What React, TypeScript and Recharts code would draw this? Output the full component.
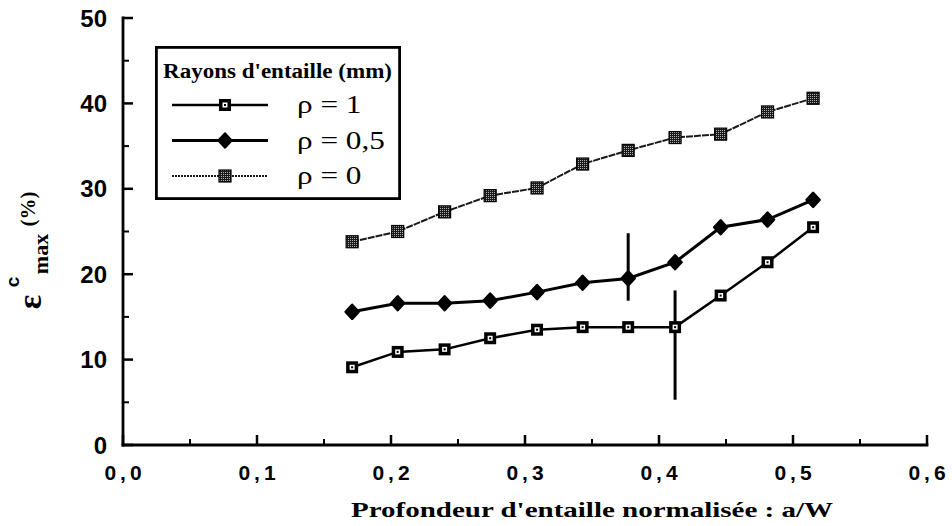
import React from 'react';
import {ErrorBar, Legend, Line, LineChart, XAxis, YAxis} from 'recharts';

// normalised notch depth a/W
const depth = [0.171, 0.205, 0.240, 0.274, 0.309, 0.343, 0.377, 0.412, 0.446, 0.481, 0.515];
// eps c max (%) for each notch radius
const rho1 = [9.1, 10.9, 11.2, 12.5, 13.5, 13.8, 13.8, 13.8, 17.5, 21.4, 25.5];
const rho05 = [15.6, 16.6, 16.6, 16.9, 17.9, 19.0, 19.5, 21.4, 25.5, 26.4, 28.7];
const rho0 = [23.8, 25.0, 27.3, 29.2, 30.1, 32.9, 34.5, 36.0, 36.4, 39.0, 40.6];
// scatter [below, above], only where the figure shows a bar
const rho1Err = [null, null, null, null, null, null, null, [8.5, 4.3], null, null, null];
const rho05Err = [null, null, null, null, null, null, [2.6, 5.3], null, null, null, null];

const xTicks = [0, 0.05, 0.1, 0.15, 0.2, 0.25, 0.3, 0.35, 0.4, 0.45, 0.5, 0.55, 0.6];
const yTicks = [0, 5, 10, 15, 20, 25, 30, 35, 40, 45, 50];
const seriesLabels = ['ρ = 1', 'ρ = 0,5', 'ρ = 0'];
const legendTitle = "Rayons d'entaille (mm)";
const xTitle = "Profondeur d'entaille normalisée : a/W";

const SERIF = '"Liberation Serif", "Times New Roman", serif';
const SANS = '"Liberation Sans", Arial, sans-serif';

const data = depth.map((x, i) => ({
    x,
    r1: rho1[i],
    r05: rho05[i],
    r0: rho0[i],
    e1: rho1Err[i],
    e05: rho05Err[i],
}));

/* markers */
const SquareMark = ({cx, cy}: any) => (
    <g>
        <rect x={cx - 6} y={cy - 6} width={12} height={12} fill="#000"/>
        <rect x={cx - 2.5} y={cy - 2.5} width={5} height={5} fill="#fff"/>
        <rect x={cx - 1} y={cy - 1} width={2} height={2} fill="#000"/>
    </g>
);
const DiamondMark = ({cx, cy}: any) => (
    <polygon points={`${cx},${cy - 7} ${cx + 6.5},${cy} ${cx},${cy + 7} ${cx - 6.5},${cy}`}
             fill="#000" stroke="#000" strokeWidth={2.5} strokeLinejoin="round"/>
);
const CheckerMark = ({cx, cy}: any) => (
    <rect x={cx - 6} y={cy - 6} width={12} height={12} fill="url(#checker)" stroke="#000" strokeWidth={1.2}/>
);

const SERIES = [
    {key: 'r1', err: 'e1', name: seriesLabels[0], Mark: SquareMark, stroke: '#000', width: 2.5, dash: undefined},
    {key: 'r05', err: 'e05', name: seriesLabels[1], Mark: DiamondMark, stroke: '#000', width: 3, dash: undefined},
    {key: 'r0', err: null, name: seriesLabels[2], Mark: CheckerMark, stroke: '#1a1a1a', width: 2, dash: '7 1'},
];

const dotFor = (Mark: any) => (props: any) => {
    if (props.cx == null || props.cy == null) return <g key={props.key}/>;
    return <g key={props.key}><Mark cx={props.cx} cy={props.cy}/></g>;
};

/* ticks, all pointing into the frame */
const isMajorX = (v: number) => Math.abs(v * 10 - Math.round(v * 10)) < 1e-6;
const isMajorY = (v: number) => v % 10 === 0;
const fmtX = (v: number) => v.toFixed(1).replace('.', ',');

const BottomTick = ({x, y, payload}: any) => {
    const major = isMajorX(payload.value);
    return (
        <g>
            <line x1={x} y1={y} x2={x} y2={y - (major ? 10 : 6)} stroke="#000" strokeWidth={major ? 2.5 : 2}/>
            {major && (
                <text x={x + 2} y={y + 27} textAnchor="middle" dominantBaseline="central"
                      style={{fontFamily: SANS, fontWeight: 'bold', fontSize: '21px', letterSpacing: '4px'}}
                      fill="#000">
                    {fmtX(payload.value)}
                </text>
            )}
        </g>
    );
};
const TopTick = ({x, y, payload}: any) => {
    const major = isMajorX(payload.value);
    return <line x1={x} y1={y} x2={x} y2={y + (major ? 10 : 6)} stroke="#000" strokeWidth={major ? 2.5 : 2}/>;
};
const LeftTick = ({x, y, payload}: any) => {
    const major = isMajorY(payload.value);
    return (
        <g>
            <line x1={x} y1={y} x2={x + (major ? 10 : 6)} y2={y} stroke="#000" strokeWidth={major ? 2.5 : 2}/>
            {major && (
                <text x={x - 16} y={y} textAnchor="end" dominantBaseline="central"
                      style={{fontFamily: SANS, fontWeight: 'bold', fontSize: '24px'}} fill="#000">
                    {payload.value}
                </text>
            )}
        </g>
    );
};
const RightTick = ({x, y, payload}: any) => {
    const major = isMajorY(payload.value);
    return <line x1={x} y1={y} x2={x - (major ? 10 : 6)} y2={y} stroke="#000" strokeWidth={major ? 2.5 : 2}/>;
};

const frame = {stroke: '#000', strokeWidth: 2.8, strokeLinecap: 'square'};

const YTitle = () => (
    <g fill="#000" fontWeight="bold">
        <text transform="translate(29,302) rotate(-90)" textAnchor="middle" dominantBaseline="central"
              fontFamily={SERIF} fontSize={34}>ε</text>
        <text transform="translate(12,282) rotate(-90)" textAnchor="middle" dominantBaseline="central"
              fontFamily={SANS} fontSize={19}>c</text>
        <text transform="translate(40,254) rotate(-90)" textAnchor="middle" dominantBaseline="central"
              fontFamily={SERIF} fontSize={22}>max</text>
        <text transform="translate(28,209) rotate(-90)" textAnchor="middle" dominantBaseline="central"
              fontFamily={SERIF} fontSize={21}>(%)</text>
    </g>
);

const XTitle = () => (
    <text x={592} y={509} textAnchor="middle" dominantBaseline="central" textLength={482}
          lengthAdjust="spacingAndGlyphs" fontFamily={SERIF} fontWeight="bold" fontSize={22} fill="#000">
        {xTitle}
    </text>
);

const LegendBox = () => (
    <svg width={246} height={154} style={{display: 'block'}}>
        <rect x={1.4} y={1.4} width={243.2} height={151.2} fill="#fff" stroke="#000" strokeWidth={2.8}/>
        <text x={8} y={32} textLength={229} lengthAdjust="spacingAndGlyphs"
              fontFamily={SERIF} fontWeight="bold" fontSize={20} fill="#000">{legendTitle}</text>
        {SERIES.map((s, i) => {
            const cy = 59 + i * 35.5;
            return (
                <g key={s.key}>
                    <line x1={17} y1={cy} x2={113} y2={cy} stroke={s.stroke} strokeWidth={s.width}
                          strokeDasharray={s.dash === undefined ? undefined : '2 1'}/>
                    <s.Mark cx={70} cy={cy}/>
                    <text transform={`translate(142,${cy}) scale(1.25,1)`} dominantBaseline="central"
                          fontFamily={SERIF} fontSize={25} fill="#000">{s.name}</text>
                </g>
            );
        })}
    </svg>
);

export default function App() {
    return (
        <div style={{position: 'absolute', left: 0, top: 0, background: '#fff'}}>
            <svg width={0} height={0} style={{position: 'absolute'}}>
                <defs>
                    <pattern id="checker" width={2} height={2} patternUnits="userSpaceOnUse">
                        <rect width={2} height={2} fill="#1a1a1a"/>
                        <rect width={1} height={1} fill="#b0b0b0"/>
                    </pattern>
                </defs>
            </svg>
            <LineChart width={952} height={526} data={data}
                       margin={{top: 18, right: 25, bottom: 0, left: 0}}>
                <XAxis dataKey="x" type="number" domain={[0, 0.6]} ticks={xTicks} interval={0}
                       allowDataOverflow height={81} tickSize={0} tickMargin={0} tickLine={false}
                       axisLine={frame} tick={BottomTick} label={{content: () => <XTitle/>}}/>
                <XAxis xAxisId="top" orientation="top" dataKey="x" type="number" domain={[0, 0.6]}
                       ticks={xTicks} interval={0} allowDataOverflow height={0} tickSize={0} tickMargin={0}
                       tickLine={false} axisLine={frame} tick={TopTick}/>
                <YAxis type="number" domain={[0, 50]} ticks={yTicks} interval={0} allowDataOverflow
                       width={123} tickSize={0} tickMargin={0} tickLine={false} axisLine={frame}
                       tick={LeftTick} label={{content: () => <YTitle/>}}/>
                <YAxis yAxisId="right" orientation="right" type="number" domain={[0, 50]} ticks={yTicks}
                       interval={0} allowDataOverflow width={0} tickSize={0} tickMargin={0} tickLine={false}
                       axisLine={frame} tick={RightTick}/>
                <Legend content={LegendBox} layout="horizontal" verticalAlign="middle" align="center"
                        wrapperStyle={{left: 155, top: 46, width: 246, height: 154}}/>
                {SERIES.slice().reverse().map((s) => (
                    <Line key={s.key} dataKey={s.key} name={s.name} stroke={s.stroke} strokeWidth={s.width}
                          strokeDasharray={s.dash} dot={dotFor(s.Mark)} activeDot={false}
                          isAnimationActive={false}>
                        {s.err && <ErrorBar dataKey={s.err} width={0} strokeWidth={3} stroke="#000"
                                            direction="y"/>}
                    </Line>
                ))}
            </LineChart>
        </div>
    );
}
